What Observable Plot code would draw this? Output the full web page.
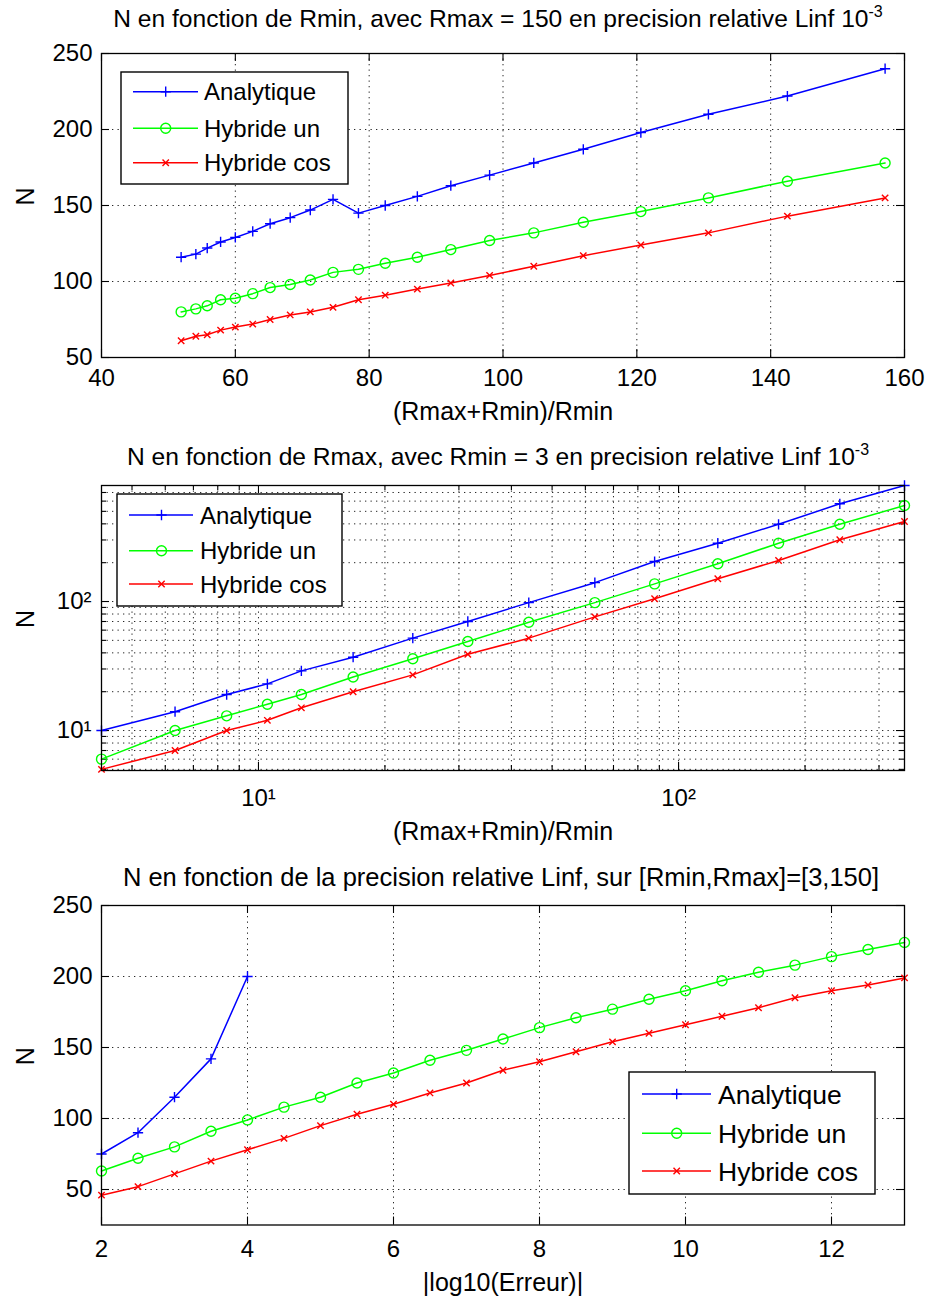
<!DOCTYPE html>
<html><head><meta charset="utf-8">
<script src="https://cdn.jsdelivr.net/npm/d3@7"></script>
<script src="https://cdn.jsdelivr.net/npm/@observablehq/plot@0.6"></script>
<style>
body{margin:0;background:#fff;}
#root{width:925px;}
#root svg{display:block;}
</style></head><body><div id="root"></div>
<script>
// ---------- DATA ----------
const seriesNames = ["Analytique", "Hybride un", "Hybride cos"];
const seriesColors = ["#0000ff", "#00ff00", "#ff0000"];
const seriesSymbols = ["plus", "circle", "times"];

// Panel 1 : N vs (Rmax+Rmin)/Rmin, Rmax = 150
const p1X = [51.9, 54.1, 55.8, 57.8, 60.0, 62.6, 65.2, 68.2, 71.2, 74.6, 78.4, 82.4, 87.2, 92.2, 98.0, 104.6, 112.0, 120.6, 130.7, 142.5, 157.1];
const p1Analytique = [116, 118, 122, 126, 129, 133, 138, 142, 147, 154, 145, 150, 156, 163, 170, 178, 187, 198, 210, 222, 240];
const p1HybrideUn = [80, 82, 84, 88, 89, 92, 96, 98, 101, 106, 108, 112, 116, 121, 127, 132, 139, 146, 155, 166, 178];
const p1HybrideCos = [61, 64, 65, 68, 70, 72, 75, 78, 80, 83, 88, 91, 95, 99, 104, 110, 117, 124, 132, 143, 155];
const p1XTicks = [40, 60, 80, 100, 120, 140, 160];
const p1YTicks = [50, 100, 150, 200, 250];

// Panel 2 : log-log, N vs (Rmax+Rmin)/Rmin, Rmin = 3
const p2X = [4.23, 6.33, 8.40, 10.5, 12.65, 16.8, 23.3, 31.5, 44.0, 63.2, 87.7, 124, 173, 242, 345];
const p2Analytique = [10, 14, 19, 23, 29, 37, 52, 70, 98, 140, 204, 283, 397, 572, 793];
const p2HybrideUn = [6, 10, 13, 16, 19, 26, 36, 49, 69, 98, 137, 196, 283, 397, 555];
const p2HybrideCos = [5, 7, 10, 12, 15, 20, 27, 39, 52, 76, 105, 150, 208, 301, 417];
const p2XTicks = [10, 100];
const p2YTicks = [10, 100];
const p2XMinor = [5, 6, 7, 8, 9, 20, 30, 40, 50, 60, 70, 80, 90, 200, 300];
const p2YMinor = [5, 6, 7, 8, 9, 20, 30, 40, 50, 60, 70, 80, 90, 200, 300, 400, 500, 600, 700];
const p2TickLabels = {10: "10¹", 100: "10²"};

// Panel 3 : N vs |log10(Erreur)|
const p3X = [2, 2.5, 3, 3.5, 4, 4.5, 5, 5.5, 6, 6.5, 7, 7.5, 8, 8.5, 9, 9.5, 10, 10.5, 11, 11.5, 12, 12.5, 13];
const p3XAnalytique = [2, 2.5, 3, 3.5, 4];
const p3Analytique = [75, 90, 115, 142, 200];
const p3HybrideUn = [63, 72, 80, 91, 99, 108, 115, 125, 132, 141, 148, 156, 164, 171, 177, 184, 190, 197, 203, 208, 214, 219, 224];
const p3HybrideCos = [46, 52, 61, 70, 78, 86, 95, 103, 110, 118, 125, 134, 140, 147, 154, 160, 166, 172, 178, 185, 190, 194, 199];
const p3XTicks = [2, 4, 6, 8, 10, 12];
const p3YTicks = [50, 100, 150, 200, 250];

// ---------- DRAWING ----------
const FONT = "'Liberation Sans', Arial, Helvetica, sans-serif";
const symRadius = {plus: 3.4, circle: 5, times: 3};
const d3Sym = {plus: d3.symbolPlus, circle: d3.symbolCircle, times: d3.symbolTimes};

function rows(xs, ys) { return ys.map((y, i) => ({x: xs[i], y})); }

function buildPanel(cfg) {
  const ml = 101, mr = 21;
  const W = 925 - ml - mr, H = cfg.height - cfg.mt - cfg.mb;
  const grid = {stroke: "#000", strokeDasharray: "1.3,4.2", strokeWidth: 1, strokeOpacity: 0.85};
  const xMinor = cfg.xMinor || [], yMinor = cfg.yMinor || [];
  const marks = [];
  marks.push(Plot.ruleX([...xMinor, ...cfg.xTicks], grid));
  marks.push(Plot.ruleY([...yMinor, ...cfg.yTicks], grid));
  const tk = 8, tkm = 5;
  const tickStyle = {stroke: "#000", strokeWidth: 1.1};
  marks.push(Plot.ruleX(cfg.xTicks, {...tickStyle, insetTop: H - tk}));
  marks.push(Plot.ruleX(cfg.xTicks, {...tickStyle, insetBottom: H - tk}));
  marks.push(Plot.ruleY(cfg.yTicks, {...tickStyle, insetRight: W - tk}));
  marks.push(Plot.ruleY(cfg.yTicks, {...tickStyle, insetLeft: W - tk}));
  if (xMinor.length) {
    marks.push(Plot.ruleX(xMinor, {...tickStyle, insetTop: H - tkm}));
    marks.push(Plot.ruleX(xMinor, {...tickStyle, insetBottom: H - tkm}));
  }
  if (yMinor.length) {
    marks.push(Plot.ruleY(yMinor, {...tickStyle, insetRight: W - tkm}));
    marks.push(Plot.ruleY(yMinor, {...tickStyle, insetLeft: W - tkm}));
  }
  cfg.series.forEach((s, i) => {
    marks.push(Plot.line(s, {x: "x", y: "y", stroke: seriesColors[i], strokeWidth: 1.5}));
    marks.push(Plot.dot(s, {x: "x", y: "y", symbol: seriesSymbols[i], stroke: seriesColors[i], fill: "none",
      r: symRadius[seriesSymbols[i]], strokeWidth: 1.4}));
  });
  marks.push(Plot.axisX({ticks: cfg.xTicks, tickSize: 0, tickPadding: cfg.tickPadX, tickFormat: cfg.xFmt, label: null, fontSize: 24}));
  marks.push(Plot.axisY({ticks: cfg.yTicks, tickSize: 0, tickPadding: cfg.tickPadY, tickFormat: cfg.yFmt, label: null, fontSize: 24}));
  marks.push(Plot.text([cfg.xLabel], {text: d => d, frameAnchor: "bottom", dy: cfg.xLabelDy, fontSize: 25}));
  marks.push(Plot.text(["N"], {text: d => d, frameAnchor: "left", dx: -76, rotate: -90, fontSize: 25}));
  marks.push(Plot.frame({stroke: "#000", strokeWidth: 1.3}));

  const svg = Plot.plot({
    width: 925, height: cfg.height,
    marginTop: cfg.mt, marginBottom: cfg.mb, marginLeft: ml, marginRight: mr,
    x: cfg.x, y: cfg.y,
    style: {fontFamily: FONT, fontSize: "24px", background: "#fff", color: "#000", overflow: "visible"},
    marks
  });

  const sel = d3.select(svg);
  // title
  const t = sel.append("text").attr("x", cfg.titleX).attr("y", cfg.titleY)
    .attr("text-anchor", "middle").attr("font-family", FONT).attr("font-size", cfg.titleFs).attr("fill", "#000");
  t.append("tspan").text(cfg.title);
  if (cfg.titleSup) t.append("tspan").attr("dy", -10).attr("font-size", 16).text(cfg.titleSup);

  // legend
  const L = cfg.legend;
  const g = sel.append("g").attr("text-anchor", "start");
  g.append("rect").attr("x", L.x).attr("y", L.y).attr("width", L.w).attr("height", L.h)
    .attr("fill", "#fff").attr("stroke", "#000").attr("stroke-width", 1.4);
  seriesNames.forEach((name, i) => {
    const ry = L.rows[i];
    g.append("line").attr("x1", L.lx1).attr("x2", L.lx2).attr("y1", ry).attr("y2", ry)
      .attr("stroke", seriesColors[i]).attr("stroke-width", 1.5);
    const r = symRadius[seriesSymbols[i]];
    g.append("path").attr("d", d3.symbol(d3Sym[seriesSymbols[i]], r * r * Math.PI)())
      .attr("transform", `translate(${L.mx},${ry})`)
      .attr("fill", "none").attr("stroke", seriesColors[i]).attr("stroke-width", 1.4);
    g.append("text").attr("x", L.tx).attr("y", ry).attr("dy", "0.36em").attr("text-anchor", "start")
      .attr("font-family", FONT).attr("font-size", L.fs).attr("fill", "#000").text(name);
  });
  document.getElementById("root").appendChild(svg);
}

// Panel 1
buildPanel({
  height: 430, mt: 53, mb: 73,
  x: {type: "linear", domain: [40, 160]},
  y: {type: "linear", domain: [50, 250]},
  xTicks: p1XTicks, yTicks: p1YTicks,
  xFmt: d => String(d), yFmt: d => String(d),
  tickPadX: 11, tickPadY: 9,
  series: [rows(p1X, p1Analytique), rows(p1X, p1HybrideUn), rows(p1X, p1HybrideCos)],
  xLabel: "(Rmax+Rmin)/Rmin", xLabelDy: 62,
  title: "N en fonction de Rmin, avec Rmax = 150 en precision relative Linf 10", titleSup: "-3",
  titleX: 498, titleY: 27, titleFs: 24.6,
  legend: {x: 121, y: 72, w: 227, h: 112, rows: [91.7, 128.3, 162.7], lx1: 133, lx2: 198, mx: 165.7, tx: 204, fs: 24}
});

// Panel 2
buildPanel({
  height: 420, mt: 55, mb: 80,
  x: {type: "log", domain: [4.23, 345]},
  y: {type: "log", domain: [4.9, 793]},
  xTicks: p2XTicks, yTicks: p2YTicks, xMinor: p2XMinor, yMinor: p2YMinor,
  xFmt: d => p2TickLabels[d], yFmt: d => p2TickLabels[d],
  tickPadX: 18, tickPadY: 10,
  series: [rows(p2X, p2Analytique), rows(p2X, p2HybrideUn), rows(p2X, p2HybrideCos)],
  xLabel: "(Rmax+Rmin)/Rmin", xLabelDy: 69,
  title: "N en fonction de Rmax, avec Rmin = 3 en precision relative Linf 10", titleSup: "-3",
  titleX: 498, titleY: 35, titleFs: 24.6,
  legend: {x: 117, y: 64, w: 225, h: 112, rows: [85, 120.7, 154], lx1: 129, lx2: 193, mx: 161.5, tx: 200, fs: 24}
});

// Panel 3
buildPanel({
  height: 455, mt: 55, mb: 80.5,
  x: {type: "linear", domain: [2, 13]},
  y: {type: "linear", domain: [25, 250]},
  xTicks: p3XTicks, yTicks: p3YTicks,
  xFmt: d => String(d), yFmt: d => String(d),
  tickPadX: 15, tickPadY: 9,
  series: [rows(p3XAnalytique, p3Analytique), rows(p3X, p3HybrideUn), rows(p3X, p3HybrideCos)],
  xLabel: "|log10(Erreur)|", xLabelDy: 66,
  title: "N en fonction de la precision relative Linf, sur [Rmin,Rmax]=[3,150]", titleSup: null,
  titleX: 501, titleY: 36, titleFs: 25.5,
  legend: {x: 629, y: 222, w: 246, h: 122, rows: [244, 283.3, 321], lx1: 642, lx2: 711, mx: 676.7, tx: 718, fs: 26.5}
});
</script>
</body></html>
